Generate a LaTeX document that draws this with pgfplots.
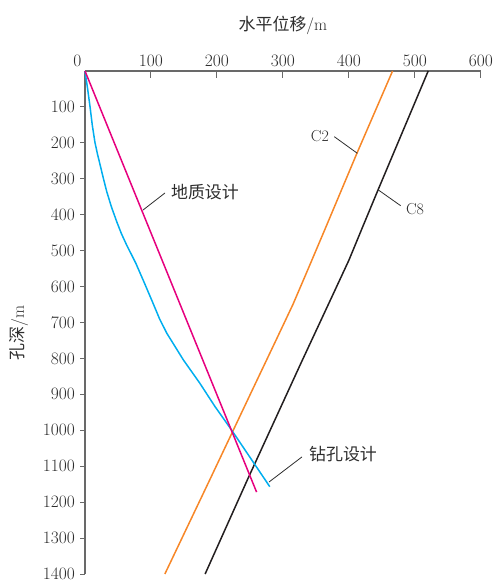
\documentclass[border=0pt]{standalone}
\usepackage{fontspec}
\usepackage{pgfplots}
\pgfplotsset{compat=1.18}
\newfontfamily\cjk{Noto Sans CJK SC}
\definecolor{cmag}{RGB}{230,0,126}
\definecolor{ccyan}{RGB}{0,174,239}
\definecolor{corange}{RGB}{247,135,40}
\definecolor{cblack}{RGB}{35,31,32}
\definecolor{caxis}{RGB}{105,105,105}
\definecolor{ctext}{RGB}{45,45,45}
\begin{document}
\begin{tikzpicture}
\path[use as bounding box] (-85bp,71bp) rectangle (413bp,-510bp);
% y axis (ticks outside)
\begin{axis}[
  at={(0,0)}, anchor=north west,
  scale only axis, width=396bp, height=503bp,
  xmin=0, xmax=600, ymin=0, ymax=1400, y dir=reverse,
  axis x line=none, axis y line*=left,
  axis line style={caxis, line width=1.2bp, -},
  xtick=\empty,
  ytick={100,200,...,1400},
  tick align=outside,
  major tick length=4.5bp,
  tick style={caxis, line width=1bp},
  /pgf/number format/1000 sep={},
  /pgf/number format/assume math mode=true,
  yticklabel style={font=\fontsize{17.5}{20}\selectfont, text=ctext, inner sep=0pt, xshift=-5.5bp},
]
\addplot[draw=none] coordinates {(0,0)};
\end{axis}
% x axis and data
\begin{axis}[
  at={(0,0)}, anchor=north west,
  scale only axis, width=396bp, height=503bp,
  xmin=0, xmax=600, ymin=0, ymax=1400, y dir=reverse,
  axis x line*=top, axis y line*=left,
  axis line style={caxis, line width=1.2bp, -},
  xtick={0,100,...,600}, ytick=\empty,
  xticklabels={{\llap{0\hspace{3.5bp}}},100,200,300,400,500,600},
  tick align=inside,
  major tick length=7bp,
  tick style={caxis, line width=1bp},
  xticklabel style={font=\fontsize{17.5}{20}\selectfont, text=ctext, inner sep=0pt, yshift=4bp},
  clip=false,
]
\addplot[cblack, line width=1.5bp] coordinates {
(520,0) (444,331) (420,437) (400,526) (378,613) (327,814) (309,886) (246,1138) (182,1400)};
\addplot[corange, line width=1.5bp] coordinates {
(466,0) (412,229) (363,443) (339,547) (315,650) (290,747) (254,886) (189,1138) (121,1400)};
\addplot[ccyan, line width=1.5bp] coordinates {
(0,0) (4,50) (7.6,99) (11,150) (15,198) (19,232) (23,262) (28,300) (33,336) (40,378) (48,419) (55,452) (63,484) (77,535) (90,590) (103,646) (113,690) (124,730) (149,804) (174,869) (197,934) (222,999) (280,1157)};
\addplot[cmag, line width=1.5bp] coordinates {(0,0) (260,1172)};
% leaders
\draw[ctext, line width=0.8bp] (axis cs:377.7,182.8) -- (axis cs:412.6,229);
\draw[ctext, line width=0.8bp] (axis cs:444.4,331) -- (axis cs:478.3,374.9);
\draw[ctext, line width=0.8bp] (axis cs:87.9,386.9) -- (axis cs:121.2,339.5);
\draw[ctext, line width=0.8bp] (axis cs:278.8,1144) -- (axis cs:328.8,1074);
% labels
\node[text=ctext, font=\fontsize{16}{19}\selectfont, inner sep=0pt] at (axis cs:356,181) {C2};
\node[text=ctext, font=\fontsize{16}{19}\selectfont, inner sep=0pt] at (axis cs:500,384) {C8};
\node[text=ctext, font=\fontsize{17}{20}\selectfont\cjk, inner sep=0pt] at (axis cs:181.8,337) {地质设计};
\node[text=ctext, font=\fontsize{17}{20}\selectfont\cjk, inner sep=0pt] at (axis cs:391,1066) {钻孔设计};
\node[text=ctext, font=\fontsize{17}{20}\selectfont, inner sep=0pt] at (axis cs:300,-128) {{\cjk 水平位移}/m};
\node[text=ctext, font=\fontsize{17}{20}\selectfont, inner sep=0pt, rotate=90] at (axis cs:-100,729) {{\cjk 孔深}/m};
\end{axis}
\end{tikzpicture}
\end{document}
